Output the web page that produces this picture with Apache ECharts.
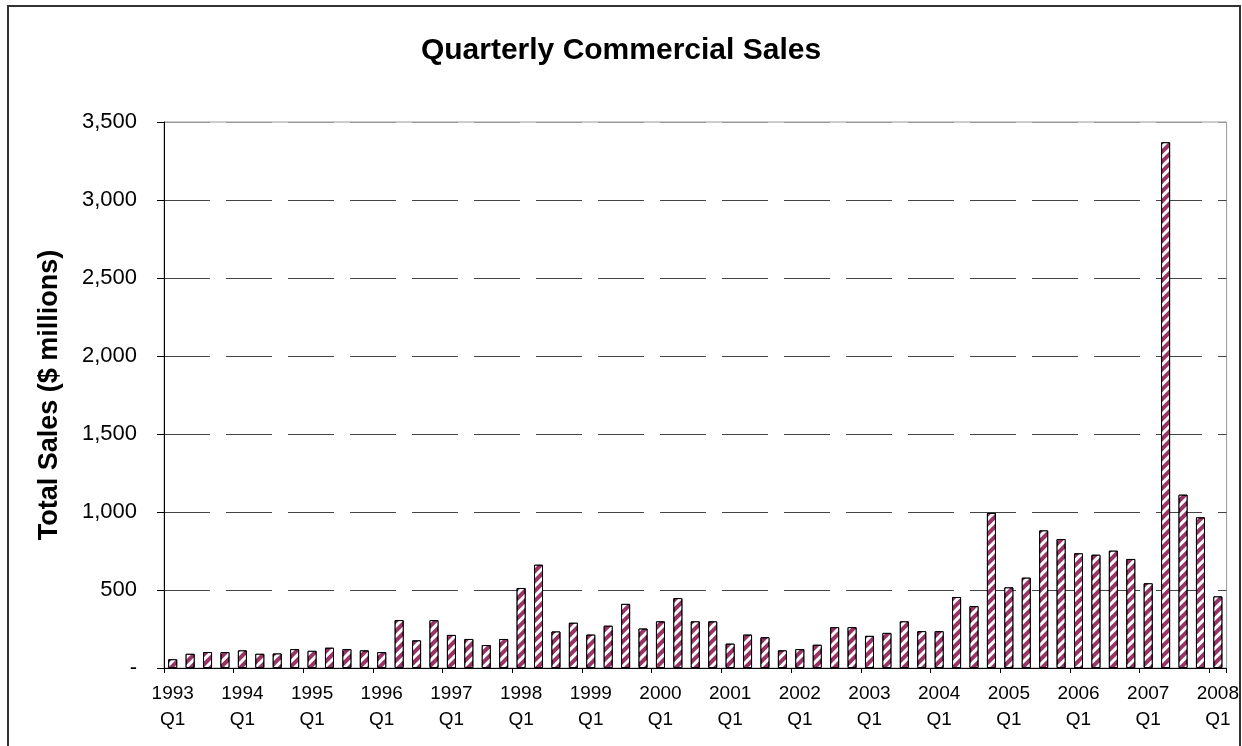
<!DOCTYPE html>
<html>
<head>
    <meta charset="utf-8">
    <title>Quarterly Commercial Sales</title>
    <script src="https://cdn.jsdelivr.net/npm/echarts@6/dist/echarts.min.js"></script>
    <style>
        html, body { margin: 0; padding: 0; background: #fff; }
        #main { width: 1242px; height: 746px; }
    </style>
</head>
<body>
<div id="main"></div>
<script type="text/javascript">
// quarter labels, 1993 Q1 .. 2008 Q1
var quarters = [
    '1993 Q1','1993 Q2','1993 Q3','1993 Q4',
    '1994 Q1','1994 Q2','1994 Q3','1994 Q4',
    '1995 Q1','1995 Q2','1995 Q3','1995 Q4',
    '1996 Q1','1996 Q2','1996 Q3','1996 Q4',
    '1997 Q1','1997 Q2','1997 Q3','1997 Q4',
    '1998 Q1','1998 Q2','1998 Q3','1998 Q4',
    '1999 Q1','1999 Q2','1999 Q3','1999 Q4',
    '2000 Q1','2000 Q2','2000 Q3','2000 Q4',
    '2001 Q1','2001 Q2','2001 Q3','2001 Q4',
    '2002 Q1','2002 Q2','2002 Q3','2002 Q4',
    '2003 Q1','2003 Q2','2003 Q3','2003 Q4',
    '2004 Q1','2004 Q2','2004 Q3','2004 Q4',
    '2005 Q1','2005 Q2','2005 Q3','2005 Q4',
    '2006 Q1','2006 Q2','2006 Q3','2006 Q4',
    '2007 Q1','2007 Q2','2007 Q3','2007 Q4',
    '2008 Q1'
];

// total sales, $ millions
var sales = [
    56, 91, 102, 102,
    113, 91, 93, 121,
    110, 130, 121, 113,
    102, 307, 177, 307,
    212, 186, 147, 186,
    513, 662, 234, 290,
    214, 271, 411, 253,
    299, 448, 299, 299,
    156, 214, 197, 113,
    121, 149, 262, 262,
    206, 225, 299, 236,
    236, 455, 397, 994,
    517, 579, 882, 827,
    735, 726, 752, 699,
    543, 3370, 1111, 966,
    459
];

// y axis: 0 .. 3,500 step 500
var yMin = 0, yMax = 3500, yStep = 500;

var font = 'Arial, "Liberation Sans", sans-serif';
var myChart = echarts.init(document.getElementById('main'));

// gridlines dark dashed, the top one matches the plot border
var gridColors = ['#444','#444','#444','#444','#444','#444','#444','#999'];

var option = {
    backgroundColor: '#fff',
    animation: false,
    title: {
        text: 'Quarterly Commercial Sales',
        left: 'center',
        top: 31,
        textStyle: { fontFamily: font, fontSize: 30, fontWeight: 'bold', color: '#000' }
    },
    graphic: [{
        type: 'rect',
        shape: { x: 8, y: 6, width: 1232, height: 760 },
        style: { fill: null, stroke: '#333', lineWidth: 2 },
        silent: true
    }],
    grid: {
        left: 164,
        right: 15,
        top: 122,
        bottom: 78,
        show: true,
        borderColor: '#999',
        borderWidth: 1,
        backgroundColor: 'transparent'
    },
    xAxis: {
        type: 'category',
        data: quarters,
        boundaryGap: true,
        axisLine: { lineStyle: { color: '#000', width: 1 } },
        axisTick: { show: true, interval: 3, length: 5, alignWithLabel: false, lineStyle: { color: '#000' } },
        axisLabel: {
            interval: 3,
            margin: 13,
            fontFamily: font,
            fontSize: 19,
            lineHeight: 26,
            color: '#000',
            formatter: function (v) { return v.replace(' ', '\n'); }
        },
        splitLine: { show: false }
    },
    yAxis: {
        type: 'value',
        min: yMin,
        max: yMax,
        interval: yStep,
        name: 'Total Sales ($ millions)',
        nameLocation: 'middle',
        nameGap: 101,
        nameTextStyle: { fontFamily: font, fontSize: 27, fontWeight: 'bold', color: '#000' },
        axisLine: { show: true, lineStyle: { color: '#000', width: 1 } },
        axisTick: { show: true, length: 7, lineStyle: { color: '#000' } },
        axisLabel: {
            margin: 27,
            fontFamily: font,
            fontSize: 22,
            color: '#000',
            formatter: function (v) { return v === 0 ? '-' : v.toLocaleString('en-US'); }
        },
        splitLine: {
            show: true,
            lineStyle: { color: gridColors, width: 1, type: [46, 16] }
        }
    },
    series: [{
        name: 'Total Sales',
        type: 'bar',
        data: sales,
        barWidth: 9,
        itemStyle: {
            color: '#993366',
            borderColor: '#000',
            borderWidth: 1,
            decal: {
                symbol: 'rect',
                symbolSize: 1,
                color: '#ffffff',
                dashArrayX: [[1, 0]],
                dashArrayY: [2.5, 3.5],
                rotation: -Math.PI / 4
            }
        }
    }]
};

myChart.setOption(option);
</script>
</body>
</html>
